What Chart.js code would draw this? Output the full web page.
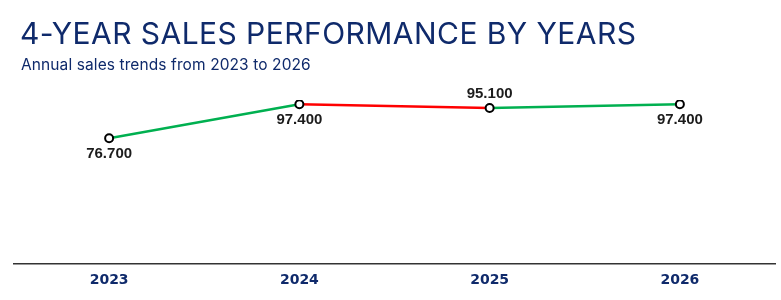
<!DOCTYPE html>
<html>
<head>
<meta charset="utf-8">
<script src="https://cdn.jsdelivr.net/npm/chart.js@4.4.1/dist/chart.umd.min.js"></script>
<style>
	html, body { margin: 0; padding: 0; background: #fff; }
	#wrap { position: relative; width: 781px; height: 300px; }
	#title { position: absolute; left: 20px; top: 15px; font: 400 30px Inter, "Open Sans", sans-serif; letter-spacing: 0.45px; color: #0f2a6b; white-space: nowrap; }
	#subtitle { position: absolute; left: 21px; top: 55px; font: 400 15.5px Inter, "Open Sans", sans-serif; letter-spacing: 0.1px; color: #0f2a6b; white-space: nowrap; }
	canvas { position: absolute; left: 0; top: 0; }
</style>
</head>
<body>
<div id="wrap">
	<canvas id="salesChart" width="781" height="300"></canvas>
	<div id="title">4-YEAR SALES PERFORMANCE BY YEARS</div>
	<div id="subtitle">Annual sales trends from 2023 to 2026</div>
</div>
<script>
var years = ['2023', '2024', '2025', '2026'];
var sales = [76700, 97400, 95100, 97400];
// where each value label sits relative to its point
var labelSide = ['below', 'below', 'above', 'below'];

var upColor = '#00b050';
var downColor = '#ff0000';

function fmt(v) {
	return v.toLocaleString('de-DE');
}

var valueLabels = {
	id: 'valueLabels',
	afterDatasetsDraw: function(chart) {
		var ctx = chart.ctx;
		var meta = chart.getDatasetMeta(0);
		ctx.save();
		ctx.font = 'bold 15px "Liberation Sans", Arial, sans-serif';
		ctx.fillStyle = '#1c1c1c';
		ctx.textAlign = 'center';
		ctx.textBaseline = 'middle';
		meta.data.forEach(function(pt, i) {
			var dy = labelSide[i] === 'above' ? -14 : 16;
			ctx.fillText(fmt(sales[i]), pt.x, pt.y + dy);
		});
		ctx.restore();
	}
};

new Chart(document.getElementById('salesChart').getContext('2d'), {
	type: 'line',
	data: {
		labels: years,
		datasets: [{
			data: sales,
			borderWidth: 2.5,
			borderColor: upColor,
			segment: {
				borderColor: function(c) { return c.p1.parsed.y < c.p0.parsed.y ? downColor : upColor; }
			},
			tension: 0,
			pointRadius: 4,
			pointBorderWidth: 2,
			pointBackgroundColor: '#fff',
			pointBorderColor: '#000'
		}]
	},
	options: {
		responsive: false,
		animation: false,
		layout: { padding: { left: 14, right: 3, top: 100, bottom: 3 } },
		plugins: { legend: { display: false }, tooltip: { enabled: false } },
		scales: {
			x: {
				offset: true,
				grid: { display: false, drawTicks: false },
				border: { display: true, color: '#333', width: 1.5 },
				ticks: {
					padding: 8,
					color: '#0f2a6b',
					font: { family: '"DejaVu Sans", sans-serif', size: 14, weight: 'bold' }
				}
			},
			y: {
				display: false,
				min: 0,
				max: 100000
			}
		}
	},
	plugins: [valueLabels]
});
</script>
</body>
</html>
